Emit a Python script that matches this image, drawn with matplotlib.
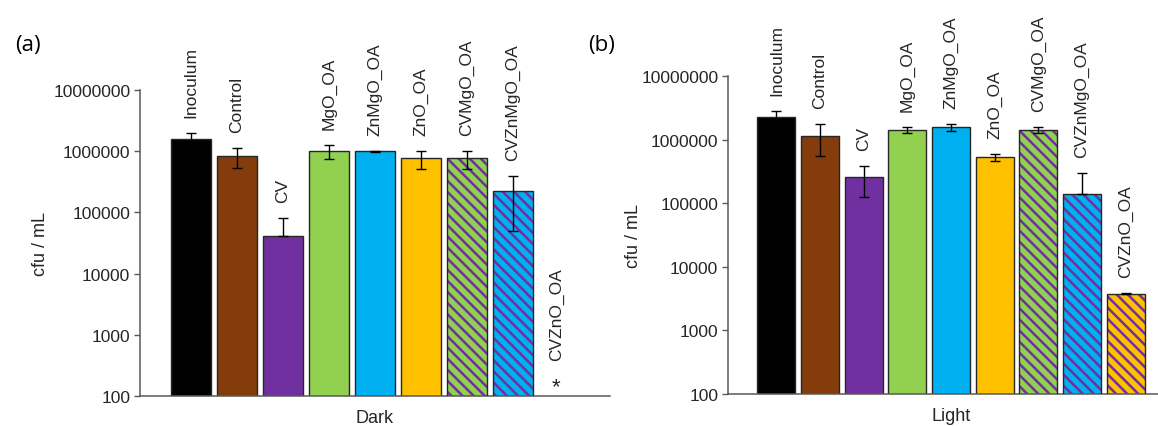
import numpy as np
import matplotlib
matplotlib.use("Agg")
import matplotlib.pyplot as plt
from matplotlib.ticker import FixedLocator, FuncFormatter

# ---------------- DATA ----------------
samples = ["Inoculum", "Control", "CV", "MgO_OA", "ZnMgO_OA", "ZnO_OA",
           "CVMgO_OA", "CVZnMgO_OA", "CVZnO_OA"]

# Dark (CVZnO_OA: no growth -> None, shown with *)
dark_vals = [1.6e6, 8.4e5, 4.1e4, 1.0e6, 1.0e6, 7.6e5, 7.6e5, 2.2e5, None]
dark_err_lo = [4.0e5, 3.0e5, 0.0, 2.5e5, 2.0e4, 2.5e5, 2.5e5, 1.7e5, 0.0]
dark_err_hi = [4.0e5, 3.0e5, 4.0e4, 2.5e5, 2.0e4, 2.5e5, 2.5e5, 1.8e5, 0.0]

# Light
light_vals = [2.25e6, 1.15e6, 2.6e5, 1.43e6, 1.57e6, 5.3e5, 1.43e6, 1.39e5, 3.8e3]
light_err_lo = [5.5e5, 6.0e5, 1.34e5, 1.5e5, 1.8e5, 7.0e4, 1.5e5, 0.0, 1.0e2]
light_err_hi = [5.5e5, 6.0e5, 1.3e5, 1.5e5, 1.8e5, 7.0e4, 1.5e5, 1.6e5, 1.0e2]

y_ticks = [100, 1000, 10000, 100000, 1000000, 10000000]

# ---------------- STYLE ----------------
fill = ["#000000", "#843C0C", "#7030A0", "#92D050", "#00B0F0", "#FFC000",
        "#92D050", "#00B0F0", "#FFC000"]
hatched = [False, False, False, False, False, False, True, True, True]
stripe = "#7030A0"
edge = "#262626"
axis_col = "#595959"
txt_col = "#262626"

plt.rcParams["font.family"] = ["Liberation Sans", "DejaVu Sans"]
plt.rcParams["hatch.linewidth"] = 1.8

W, H = 1158, 427
fig = plt.figure(figsize=(W / 100, H / 100), dpi=100)

# axes boxes in pixels: left, top, right, bottom
ax_a = fig.add_axes([140 / W, (H - 397) / H, (610 - 140) / W, (397 - 91) / H])
ax_b = fig.add_axes([728 / W, (H - 395) / H, (1174 - 728) / W, (395 - 77.3) / H])


def draw_panel(ax, vals, err_lo, err_hi, xlabel, h_px):
    for i, v in enumerate(vals):
        if v is None:
            continue
        if hatched[i]:
            ax.bar(i, v, width=0.87, color=fill[i], edgecolor=stripe,
                   linewidth=0, hatch="\\\\\\", zorder=2)
            ax.bar(i, v, width=0.87, fill=False, edgecolor=edge,
                   linewidth=1.0, zorder=3)
        else:
            ax.bar(i, v, width=0.87, color=fill[i], edgecolor=edge,
                   linewidth=1.0, zorder=2)
        ax.errorbar(i, v, yerr=[[err_lo[i]], [err_hi[i]]], fmt="none",
                    ecolor="black", elinewidth=1.0, capsize=3.5,
                    capthick=1.0, zorder=4)
        ax.annotate(samples[i], xy=(i, v + err_hi[i]), xytext=(0, 11.5),
                    textcoords="offset points", rotation=90, ha="center",
                    va="bottom", fontsize=12.5, color=txt_col)

    ax.set_yscale("log")
    ax.set_ylim(y_ticks[0], y_ticks[-1])
    ax.yaxis.set_major_locator(FixedLocator(y_ticks))
    ax.yaxis.set_minor_locator(FixedLocator([]))
    ax.yaxis.set_major_formatter(FuncFormatter(lambda v, p: f"{int(round(v))}"))
    ax.set_xlim(-1.11, len(samples) - 1 + 1.11)
    ax.set_xticks([])

    for s in ["top", "right"]:
        ax.spines[s].set_visible(False)
    for s in ["left", "bottom"]:
        ax.spines[s].set_color(axis_col)
        ax.spines[s].set_linewidth(1.1)
    ax.tick_params(axis="y", which="major", direction="out", length=4,
                   width=1.0, color=axis_col, pad=3, labelsize=12.5,
                   labelcolor=txt_col)

    ax.set_ylabel("cfu / mL", fontsize=13, color=txt_col)
    ax.yaxis.set_label_coords(-0.193, 0.5)
    ax.set_xlabel(xlabel, fontsize=13, color=txt_col)
    ax.xaxis.set_label_coords(0.5, -21.5 / h_px)
    ax.xaxis.label.set_va("center")


draw_panel(ax_a, dark_vals, dark_err_lo, dark_err_hi, "Dark", 397 - 91)
draw_panel(ax_b, light_vals, light_err_lo, light_err_hi, "Light", 395 - 77.3)

# missing Dark CVZnO_OA bar: asterisk + label
i_miss = dark_vals.index(None)
ax_a.annotate("*", xy=(i_miss, 0), xycoords=("data", "axes fraction"),
              xytext=(-2, -1), textcoords="offset points", ha="center",
              va="bottom", fontsize=16, color=txt_col)
ax_a.annotate(samples[i_miss], xy=(i_miss, 0), xycoords=("data", "axes fraction"),
              xytext=(-2, 26), textcoords="offset points", rotation=90,
              ha="center", va="bottom", fontsize=12.5, color=txt_col)

fig.text(28 / W, 1 - 45 / H, "(a)", fontsize=16, family="Open Sans",
         ha="center", va="center", color="black")
fig.text(602 / W, 1 - 45 / H, "(b)", fontsize=16, family="Open Sans",
         ha="center", va="center", color="black")

fig.savefig("out.png", dpi=100)
